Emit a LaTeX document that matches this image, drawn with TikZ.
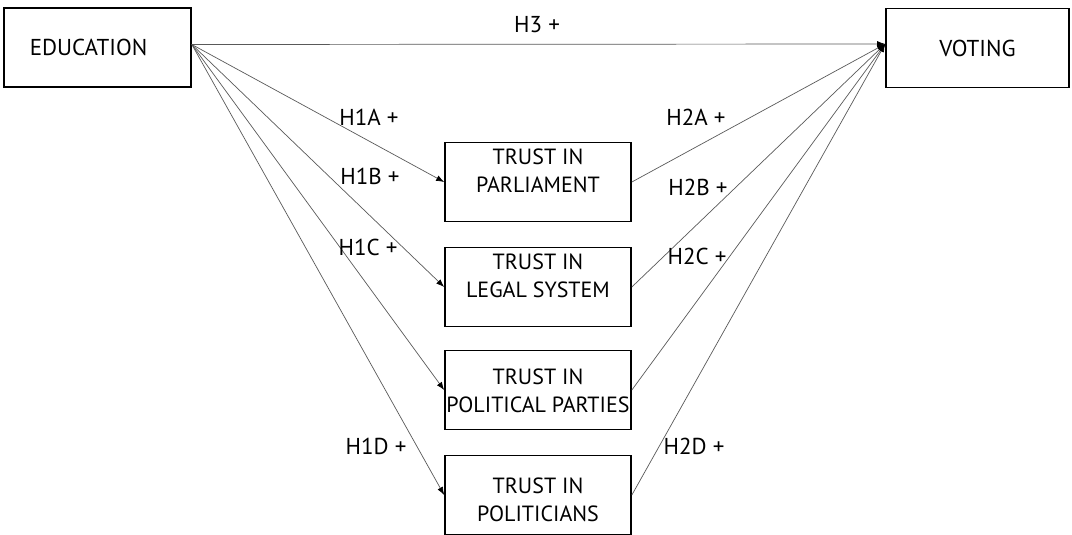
\documentclass[tikz,border=0pt]{standalone}
\usepackage{fontspec}
\setmainfont{PT Sans}
\usetikzlibrary{arrows.meta,positioning}

\begin{document}
\begin{tikzpicture}[
    x=1pt, y=-1pt,
    every node/.style={font=\fontsize{23}{28}\selectfont, text=black},
    box/.style={draw=black, line width=1.7pt, minimum width=186pt, minimum height=79pt, align=center, inner sep=0pt},
    link/.style={draw=black!65, line width=0.7pt, -{Latex[length=8pt,width=6pt,black]}},
    hyp/.style={inner sep=0pt}
]
\useasboundingbox (0,0) rectangle (1072,535);

% Outer variables
\node[box, minimum width=187pt] (edu) at (97.5,47.5) {\hspace*{-18pt}EDUCATION};
\node[box, minimum width=183pt] (vote) at (977.5,48) {VOTING};
\coordinate (src) at ([yshift=3pt]edu.east);
\coordinate (dst) at ([yshift=4pt]vote.west);

% Mediators: trust (text raised a little in the upper two)
\foreach \n/\y/\dy/\txt in {parl/182/4/PARLIAMENT, legal/287/4/LEGAL SYSTEM, parties/390/-8/POLITICAL PARTIES, pols/495/-12/POLITICIANS} {
    \node[box, font=\fontsize{22}{28}\selectfont] (\n) at (538,\y)
        {\raisebox{\dy pt}[0pt][0pt]{\begin{tabular}{@{}c@{}}TRUST IN\\\txt\end{tabular}}};
    \draw[link] (src) -- (\n.west);
    \draw[link] (\n.east) -- (dst);
}

% Direct effect
\draw[link] (src) -- (dst);

% Hypotheses
\node[hyp] (h3) at (537,25) {H3 +};
\foreach \n/\x/\y in {1A/369/117, 1B/370/176, 1C/368/247, 1D/376/446} {
    \node[hyp] (h\n) at (\x,\y) {H\n\ +};
}
\foreach \n/\x/\y in {2A/696/117, 2B/698/187, 2C/697/256, 2D/694/446} {
    \node[hyp] (h\n) at (\x,\y) {H\n\ +};
}

\end{tikzpicture}
\end{document}
